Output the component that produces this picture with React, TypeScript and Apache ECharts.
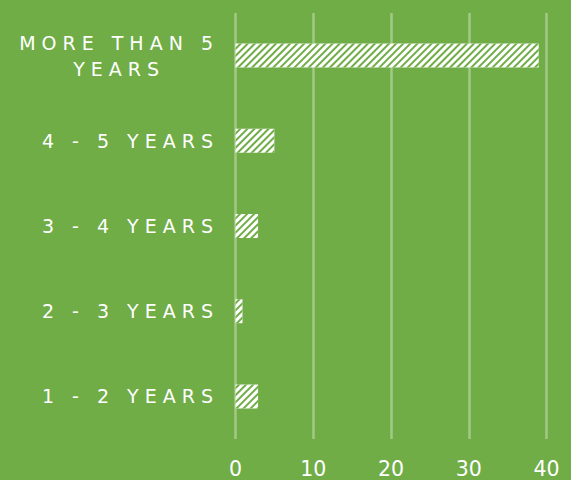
import React, { useEffect, useRef } from "react";
import * as echarts from "echarts";

const categories = ["1 - 2 YEARS", "2 - 3 YEARS", "3 - 4 YEARS", "4 - 5 YEARS", "MORE THAN 5 YEARS"];
const values = [2.9, 0.9, 2.9, 5, 39];
const xTicks = [0, 10, 20, 30, 40];
const longLabelLines = ["MORE THAN 5", "YEARS"];

const BG = "#70AD47";
const Y_FONT = "'DejaVu Sans', sans-serif";
const X_FONT = "DejaVu Sans";
const Y_SIZE = 19;
const LS = 6;

function measure(text: string, font: string) {
  const c = document.createElement("canvas");
  const ctx = c.getContext("2d")!;
  ctx.font = font;
  return ctx.measureText(text).width;
}

export default function App() {
  const ref = useRef<HTMLDivElement>(null);
  useEffect(() => {
    const el = ref.current!;
    const chart = echarts.init(el, null, { renderer: "svg" });
    const font = `${Y_SIZE}px 'DejaVu Sans'`;
    const w1 = measure(longLabelLines[0], font);
    const w2 = measure(longLabelLines[1], font);
    const pad2 = (w1 - w2) / 2 + 3 * LS;
    const gridLeft = 235.5;
    const labelRight = 213 + LS;
    const tokenBase = { fontFamily: Y_FONT, fontSize: Y_SIZE, color: "#ffffff", lineHeight: 26, align: "right" };
    chart.setOption({
      animation: false,
      backgroundColor: BG,
      grid: { left: gridLeft, right: 571 - 546.5, top: 13, bottom: 41, containLabel: false },
      xAxis: {
        type: "value",
        min: xTicks[0],
        max: xTicks[xTicks.length - 1],
        interval: xTicks[1] - xTicks[0],
        axisLine: { show: false },
        axisTick: { show: false },
        splitLine: { show: true, lineStyle: { color: "rgba(255,255,255,0.35)", width: 2.5 } },
        axisLabel: {
          color: "#ffffff",
          fontFamily: X_FONT,
          fontSize: 20.5,
          margin: 30,
          verticalAlign: "middle",
        },
      },
      yAxis: {
        type: "category",
        data: categories,
        axisLine: { show: false },
        axisTick: { show: false },
        axisLabel: {
          margin: gridLeft - labelRight,
          align: "right",
          verticalAlign: "middle",
          lineHeight: 26,
          fontFamily: Y_FONT,
          fontSize: Y_SIZE,
          color: "#ffffff",
          formatter: (v: string) =>
            v === categories[4]
              ? `{a|${longLabelLines[0]}}\n{b|${longLabelLines[1]}}`
              : `{a|${v}}`,
          rich: {
            a: { ...tokenBase },
            b: { ...tokenBase, padding: [0, pad2, 0, 0] },
          },
        },
      },
      aria: { enabled: true, decal: { show: true } },
      series: [
        {
          type: "bar",
          data: values,
          barWidth: 24,
          silent: true,
          itemStyle: {
            color: "#ffffff",
            decal: {
              symbol: "rect",
              symbolSize: 1,
              color: BG,
              dashArrayX: [1, 0],
              dashArrayY: [2, 3],
              rotation: -Math.PI / 4,
            },
          },
        },
      ],
    });
    return () => chart.dispose();
  }, []);
  return (
    <>
      <style>{`text[style*="sans-serif"]{letter-spacing:${LS}px;}`}</style>
      <div ref={ref} style={{ position: "absolute", left: 0, top: 0, width: 571, height: 480 }} />
    </>
  );
}
